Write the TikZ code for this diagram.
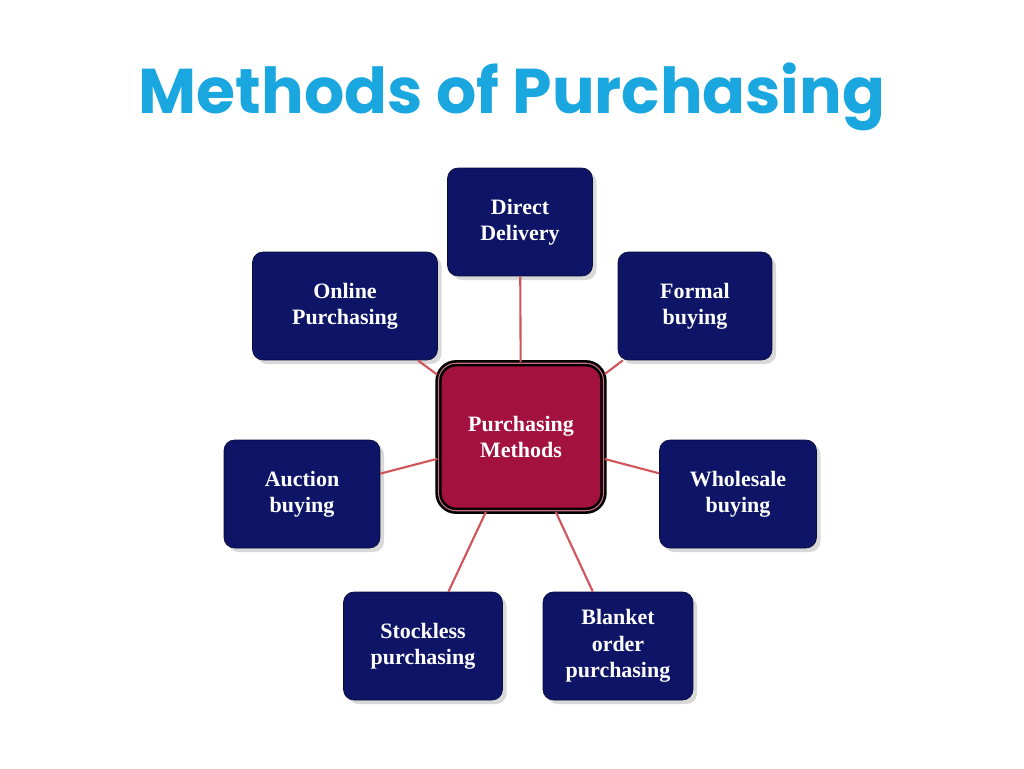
\documentclass[tikz,border=0pt]{standalone}
\usepackage{fontspec}
\setmainfont{Liberation Serif}
\newfontfamily\titlefont{Poppins}
\usetikzlibrary{shadows}
\definecolor{navybox}{HTML}{0E1466}
\definecolor{redbox}{HTML}{A3123E}
\definecolor{linkred}{HTML}{D0545A}
\definecolor{titleblue}{HTML}{1AA7E0}
\tikzset{
  method/.style = {draw = navybox!60!black, fill = navybox, rounded corners = 6pt,
    text = white, font = \bfseries\fontsize{12.5}{15}\selectfont, align = center,
    minimum height = 2.16cm, drop shadow = {opacity = 0.3}},
  hub/.style = {draw = black, line width = 1.5pt, fill = redbox, rounded corners = 10pt,
    text = white, font = \bfseries\fontsize{12.5}{15}\selectfont, align = center,
    minimum width = 3.3cm, minimum height = 2.95cm, double = redbox!60!white, double distance = 0.6pt},
  link/.style = {draw = linkred, line width = 1.2pt}
}
\begin{document}
\begin{tikzpicture}[x = 0.02cm, y = -0.02cm]
  \useasboundingbox (0,0) rectangle (1024,768);

  \node[font = \titlefont\bfseries\fontsize{36}{40}\selectfont, text = titleblue] (title) at (512,97) {Methods of Purchasing};

  \node[hub] (hub) at (521,437) {Purchasing\\Methods};

  \node[method, minimum width = 2.9cm] (direct) at (520,222) {Direct\\Delivery};
  \node[method, minimum width = 3.7cm] (online) at (345,306) {Online\\Purchasing};
  \node[method, minimum width = 3.08cm] (formal) at (695,306) {Formal\\buying};
  \node[method, minimum width = 3.12cm] (auction) at (302,494) {Auction\\buying};
  \node[method, minimum width = 3.14cm] (wholesale) at (738,494) {Wholesale\\buying};
  \node[method, minimum width = 3.18cm] (stockless) at (423,646) {Stockless\\purchasing};
  \node[method, minimum width = 3.0cm] (blanket) at (618,646) {Blanket\\order\\purchasing};

  \foreach \m in {direct, online, formal, auction, wholesale, stockless, blanket}
    \draw[link] (hub) -- (\m);
\end{tikzpicture}
\end{document}
